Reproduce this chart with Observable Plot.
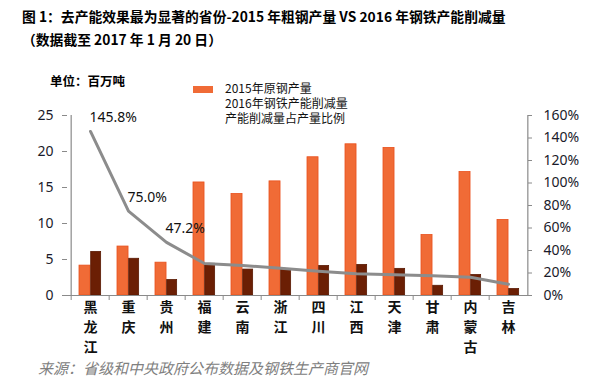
<!DOCTYPE html>
<html><head><meta charset="utf-8">
<script src="https://cdn.jsdelivr.net/npm/d3@7"></script>
<script src="https://cdn.jsdelivr.net/npm/@observablehq/plot@0.6"></script>
<style>
body{margin:0;background:#fff;}
#wrap{position:relative;width:595px;height:390px;overflow:hidden;font-family:"Noto Sans CJK SC","Noto Sans",sans-serif;}
.abs{position:absolute;white-space:nowrap;}
#t1{left:22px;top:6px;font-size:13.8px;font-weight:bold;color:#000;}
#t2{left:22px;top:29px;font-size:13.8px;font-weight:bold;color:#000;}
#unit{left:50px;top:71px;font-size:12.5px;font-weight:bold;color:#000;}
.leg{left:225px;font-size:12px;color:#111;line-height:15px;height:15px;}
#sw{left:193px;top:86px;width:20px;height:7px;background:#F06B36;}
#cap{left:38px;top:357px;font-size:15px;font-style:italic;color:#808080;}
#chart{position:absolute;left:0;top:0;}
</style></head>
<body><div id="wrap">
<div class="abs" id="t1">图 1：去产能效果最为显著的省份-2015 年粗钢产量 VS 2016 年钢铁产能削减量</div>
<div class="abs" id="t2">（数据截至 2017 年 1 月 20 日）</div>
<div class="abs" id="unit">单位：百万吨</div>
<div class="abs" id="sw"></div>
<div class="abs leg" style="top:80px">2015年原钢产量</div>
<div class="abs leg" style="top:95px">2016年钢铁产能削减量</div>
<div class="abs leg" style="top:110px">产能削减量占产量比例</div>
<div class="abs" id="cap">来源：省级和中央政府公布数据及钢铁生产商官网</div>
<div id="chart"></div>
</div>
<script>
const provinces = ["黑龙江","重庆","贵州","福建","云南","浙江","四川","江西","天津","甘肃","内蒙古","吉林"];
const output2015 = [4.15, 6.8, 4.56, 15.7, 14.1, 15.85, 19.2, 21.0, 20.5, 8.4, 17.15, 10.5];
const cut2016 = [6.05, 5.1, 2.15, 4.4, 3.6, 3.6, 4.1, 4.25, 3.7, 1.35, 2.85, 0.9];
const ratioPct = [145.8, 75.0, 47.2, 28.4, 26.7, 24.3, 21.6, 19.3, 18.4, 17.5, 16.3, 10.0];
const ratioLabels = ["145.8%","75.0%","47.2%"];
const leftTicks = [0,5,10,15,20,25];
const rightTicks = [0,20,40,60,80,100,120,140,160];

const W = 595, H = 390, mL = 67, mR = 64, mT = 115, mB = 95;
const bw = (W - mL - mR) / provinces.length;
const k = 25 / 160; // percent -> left units
const rows = provinces.map((p, i) => ({p, a: output2015[i], b: cut2016[i], r: ratioPct[i] * k}));
const labelRows = ratioLabels.map((t, i) => ({p: provinces[i], r: ratioPct[i] * k, t}));
const axisCol = "#8a8a8a";
const font = "'Noto Sans', sans-serif";

const chart = Plot.plot({
  width: W, height: H,
  marginLeft: mL, marginRight: mR, marginTop: mT, marginBottom: mB,
  style: {fontFamily: font, background: "transparent", overflow: "visible"},
  x: {type: "band", domain: provinces, padding: 0, axis: null, label: null},
  y: {domain: [0, 25], axis: null, label: null},
  marks: [
    Plot.barY(rows, {x: "p", y: "a", fill: "#F06B36", stroke: "#E9501C", strokeWidth: 0.8, insetLeft: 8, insetRight: bw - 19.7}),
    Plot.barY(rows, {x: "p", y: "b", fill: "#6B1F04", stroke: "#5A1A03", strokeWidth: 0.8, insetLeft: 19.7, insetRight: bw - 30.3}),
    Plot.line(rows, {x: "p", y: "r", stroke: "#8C8C8C", strokeWidth: 3}),
    Plot.text(labelRows, {x: "p", y: "r", text: "t", textAnchor: "start", dx: -1, dy: -14, fontSize: 14, fill: "#111"}),
    Plot.ruleY([0], {stroke: axisCol, strokeWidth: 1.2}),
    Plot.ruleX([provinces[0]], {y1: 0, y2: 25, dx: -bw / 2, stroke: axisCol, strokeWidth: 1.2}),
    Plot.ruleX([provinces[provinces.length - 1]], {y1: 0, y2: 25, dx: bw / 2, stroke: axisCol, strokeWidth: 1.2}),
    Plot.axisY({ticks: leftTicks, tickSize: 5, tickPadding: 9, fontSize: 14, fill: "#1a1a2a", stroke: axisCol, tickFormat: d => d, label: null}),
    Plot.axisY({anchor: "right", ticks: rightTicks.map(v => v * k), tickSize: -4, tickPadding: 16, fontSize: 14, fill: "#1a1a2a", stroke: axisCol, tickFormat: v => Math.round(v / k) + "%", label: null}),
    Plot.axisX({tickSize: 5, dx: -bw / 2, text: null, stroke: axisCol, label: null}),
    Plot.text(provinces, {x: d => d, y: 0, text: d => d.split("").join("\n"), lineAnchor: "top", dy: 2, lineHeight: 20/14, fontSize: 14, fontWeight: "bold", fill: "#111", fontFamily: "'Noto Sans CJK SC', sans-serif"})
  ]
});
document.getElementById("chart").appendChild(chart);
</script>
</body></html>
